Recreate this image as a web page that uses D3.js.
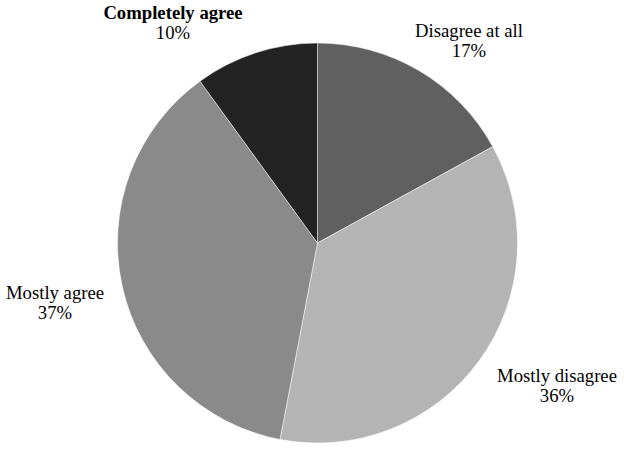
<!DOCTYPE html>
<html><head><meta charset="utf-8">
<script src="https://cdnjs.cloudflare.com/ajax/libs/d3/7.8.5/d3.min.js"></script>
<style>body{margin:0;background:#fff}</style>
</head><body>
<svg id="c" width="624" height="452"></svg>
<script>
const categories = ["Disagree at all", "Mostly disagree", "Mostly agree", "Completely agree"];
const values = [17, 36, 37, 10];
const colors = ["#606060", "#b4b4b4", "#8a8a8a", "#232323"];
const boldLabel = [false, false, false, true];
const labelPos = [[469, 37], [557, 382], [55, 299], [173, 19]];

const svg = d3.select("#c");
const cx = 317.5, cy = 243, r = 200;
const pie = d3.pie().sort(null).value(d => d)(values);
const arc = d3.arc().innerRadius(0).outerRadius(r);
const g = svg.append("g").attr("transform", `translate(${cx},${cy})`);
g.selectAll("path").data(pie).join("path")
  .attr("d", arc)
  .attr("fill", (d, i) => colors[i])
  .attr("stroke", "#fff").attr("stroke-width", 0.5);

const lab = svg.append("g").attr("font-family", "'Liberation Serif', 'Times New Roman', serif")
  .attr("font-size", 18.7).attr("fill", "#000").attr("text-anchor", "middle");
categories.forEach((c, i) => {
  const t = lab.append("text").attr("x", labelPos[i][0]).attr("y", labelPos[i][1])
    .attr("font-weight", boldLabel[i] ? "bold" : "normal");
  t.append("tspan").attr("x", labelPos[i][0]).text(c);
  t.append("tspan").attr("x", labelPos[i][0]).attr("dy", 20).attr("font-weight", "normal").text(values[i] + "%");
});
</script>
</body></html>
